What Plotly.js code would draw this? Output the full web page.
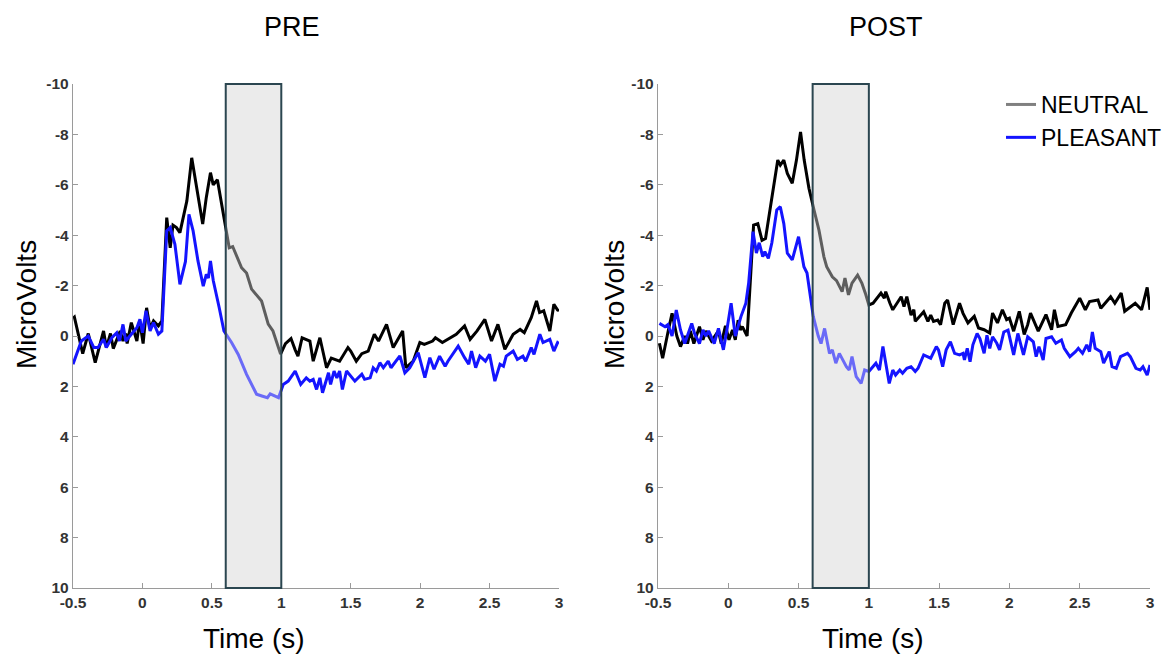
<!DOCTYPE html>
<html>
<head>
<meta charset="utf-8">
<script src="https://cdn.plot.ly/plotly-3.0.1.min.js"></script>
<style>html,body{margin:0;padding:0;background:#fff;}#chart{width:1176px;height:654px;}</style>
</head>
<body>
<div id="chart"></div>
<script>
// ---- DATA ----
const panelTitles = ["PRE", "POST"];
const seriesNames = ["NEUTRAL", "PLEASANT"];
const xTickVals = [-0.5, 0, 0.5, 1, 1.5, 2, 2.5, 3];
const xTickText = ["-0.5", "0", "0.5", "1", "1.5", "2", "2.5", "3"];
const yTickVals = [-10, -8, -6, -4, -2, 0, 2, 4, 6, 8, 10];
const yTickText = ["-10", "-8", "-6", "-4", "-2", "0", "2", "4", "6", "8", "10"];
const windowStart = 0.6, windowEnd = 1.0;

const preNeutralT = [-0.5,-0.49,-0.43,-0.39,-0.34,-0.28,-0.26,-0.23,-0.21,-0.16,-0.14,-0.12,-0.11,-0.08,-0.04,-0.02,0.005,0.03,0.055,0.08,0.115,0.14,0.175,0.2,0.22,0.245,0.27,0.32,0.355,0.39,0.434,0.46,0.49,0.51,0.54,0.587,0.625,0.65,0.714,0.75,0.786,0.858,0.906,0.94,0.995,1.03,1.07,1.1,1.12,1.15,1.18,1.206,1.23,1.278,1.326,1.36,1.42,1.48,1.5,1.54,1.58,1.626,1.67,1.7,1.758,1.806,1.874,1.897,1.95,1.998,2.03,2.09,2.11,2.16,2.26,2.32,2.36,2.41,2.466,2.514,2.56,2.61,2.67,2.72,2.75,2.8,2.838,2.86,2.89,2.934,2.963,2.99,3.0];
const preNeutralV = [-0.7,-0.75,0.7,-0.1,1.06,-0.2,0.46,-0.1,0.5,-0.2,0.2,-0.1,0.3,-0.53,0.2,-0.6,0.3,-1.12,-0.3,-0.6,-0.4,-0.6,-4.7,-3.5,-4.4,-4.3,-4.1,-5.36,-7.07,-5.9,-4.44,-5.5,-6.48,-6.0,-6.2,-4.7,-3.5,-3.55,-2.71,-2.5,-1.86,-1.39,-0.47,-0.2,0.72,0.3,0.1,0.55,0.8,0.07,0.13,0.2,1.0,0.07,1.26,0.88,1.0,0.46,0.6,1.0,0.7,0.6,-0.07,0.2,-0.46,0.46,-0.2,1.26,1.0,0.26,0.33,0.2,0.07,0.26,-0.07,-0.4,0.13,-0.2,-0.66,0.2,-0.46,0.53,-0.07,-0.26,-0.13,-0.73,-1.39,-0.93,-1.0,-0.2,-1.26,-1.03,-1.0];

const prePleasantT = [-0.5,-0.44,-0.39,-0.35,-0.32,-0.28,-0.26,-0.22,-0.185,-0.165,-0.14,-0.12,-0.08,-0.04,-0.018,0.0,0.026,0.055,0.08,0.115,0.14,0.175,0.2,0.234,0.27,0.31,0.335,0.365,0.4,0.438,0.46,0.475,0.49,0.51,0.553,0.587,0.642,0.69,0.75,0.822,0.86,0.9,0.92,0.98,1.014,1.05,1.1,1.14,1.18,1.206,1.23,1.254,1.278,1.297,1.34,1.355,1.38,1.4,1.42,1.44,1.47,1.505,1.53,1.58,1.6,1.64,1.662,1.685,1.71,1.735,1.77,1.79,1.854,1.89,1.925,1.986,2.034,2.07,2.1,2.14,2.18,2.2,2.274,2.32,2.35,2.37,2.4,2.43,2.47,2.5,2.538,2.575,2.6,2.62,2.67,2.7,2.74,2.76,2.8,2.82,2.862,2.885,2.934,2.963,2.99,3.0];
const prePleasantV = [1.12,0.2,0.0,0.46,0.46,0.13,0.46,0.07,-0.13,0.2,-0.46,0.2,-0.07,-0.33,-0.66,-0.13,-1.0,-0.2,-0.53,-0.07,-0.2,-4.17,-4.3,-3.64,-2.05,-2.96,-4.83,-4.17,-2.98,-1.98,-2.45,-2.3,-2.98,-2.2,-1.12,-0.2,0.26,0.73,1.52,2.31,2.38,2.45,2.3,2.45,1.92,1.79,1.39,1.92,1.66,1.79,1.72,2.12,1.66,2.25,1.46,1.92,1.39,1.66,1.39,2.12,1.39,1.6,1.79,1.52,1.72,1.66,1.26,1.39,1.06,1.26,1.0,1.26,0.79,1.46,1.26,0.66,1.65,0.86,1.32,0.8,1.2,1.0,0.4,0.86,1.12,0.6,1.26,0.8,1.0,0.73,1.79,1.12,1.2,0.8,0.6,0.93,0.8,1.0,0.46,0.73,-0.07,0.26,0.13,0.6,0.26,0.3];

const postNeutralT = [-0.49,-0.467,-0.426,-0.4,-0.366,-0.34,-0.31,-0.29,-0.27,-0.245,-0.205,-0.18,-0.16,-0.12,-0.07,-0.05,-0.02,0.005,0.03,0.05,0.07,0.085,0.1,0.134,0.18,0.21,0.24,0.265,0.3,0.32,0.352,0.37,0.395,0.42,0.455,0.485,0.514,0.54,0.574,0.61,0.645,0.68,0.7,0.74,0.77,0.81,0.83,0.855,0.88,0.92,0.95,0.975,1.0,1.03,1.086,1.11,1.12,1.15,1.17,1.23,1.25,1.27,1.3,1.32,1.33,1.39,1.42,1.44,1.46,1.49,1.51,1.54,1.56,1.6,1.645,1.67,1.705,1.75,1.78,1.82,1.86,1.88,1.915,1.95,1.98,2.0,2.03,2.07,2.105,2.13,2.15,2.205,2.26,2.3,2.32,2.345,2.4,2.44,2.5,2.54,2.57,2.63,2.65,2.72,2.75,2.795,2.82,2.895,2.94,2.98,3.0];
const postNeutralV = [0.29,0.88,-0.24,-0.9,0.0,0.42,0.0,0.3,-0.2,0.3,-0.37,0.15,-0.2,0.2,-0.2,0.3,-0.4,0.15,-0.24,0.15,-0.63,-0.24,-0.37,0.0,-4.4,-4.46,-3.8,-3.87,-5.13,-5.8,-6.98,-6.78,-6.98,-6.45,-6.06,-6.98,-8.1,-6.98,-5.86,-5.0,-4.2,-3.15,-2.75,-2.35,-2.2,-1.76,-2.3,-1.63,-2.1,-2.42,-2.1,-1.7,-1.23,-1.3,-1.7,-1.5,-1.76,-1.3,-1.04,-1.56,-1.17,-1.56,-0.83,-1.04,-0.58,-0.96,-0.58,-0.83,-0.58,-0.63,-0.45,-1.3,-1.43,-0.45,-1.3,-0.9,-0.52,-0.78,-0.32,-0.25,-0.12,-0.91,-0.52,-1.04,-0.65,-0.71,-0.19,-0.98,-0.06,-0.45,-0.91,-0.19,-0.85,-0.25,-1.04,-0.38,-0.45,-0.91,-1.5,-1.04,-1.37,-1.43,-1.1,-1.56,-1.3,-1.7,-0.98,-1.3,-1.04,-1.93,-1.04];

const postPleasantT = [-0.49,-0.45,-0.43,-0.4,-0.37,-0.34,-0.31,-0.26,-0.24,-0.205,-0.18,-0.16,-0.14,-0.1,-0.07,-0.035,-0.01,0.02,0.05,0.09,0.125,0.145,0.176,0.2,0.22,0.245,0.26,0.285,0.31,0.345,0.37,0.395,0.42,0.455,0.5,0.538,0.56,0.586,0.605,0.64,0.66,0.685,0.72,0.74,0.765,0.79,0.84,0.86,0.88,0.91,0.945,0.97,1.0,1.05,1.075,1.1,1.145,1.17,1.19,1.22,1.24,1.27,1.3,1.33,1.35,1.39,1.42,1.44,1.48,1.495,1.525,1.55,1.58,1.61,1.645,1.67,1.68,1.7,1.72,1.74,1.77,1.79,1.82,1.84,1.86,1.88,1.91,1.93,1.96,1.99,2.03,2.06,2.1,2.13,2.17,2.19,2.21,2.24,2.26,2.3,2.33,2.37,2.39,2.43,2.47,2.49,2.52,2.55,2.57,2.59,2.61,2.65,2.67,2.71,2.73,2.76,2.79,2.84,2.86,2.9,2.93,2.95,2.98,3.0];
const postPleasantV = [-0.5,-0.37,-0.45,0.0,-1.03,-0.24,0.3,-0.5,-0.1,0.3,-0.24,0.0,-0.2,0.3,-0.3,0.55,-0.24,-1.3,0.0,-0.77,-1.3,-2.1,-4.14,-3.29,-3.7,-3.15,-3.35,-3.08,-3.7,-5.0,-5.13,-4.46,-3.29,-3.02,-3.94,-2.75,-2.5,-1.43,-0.77,0.0,0.3,-0.3,0.69,0.55,1.08,0.69,1.22,1.35,0.82,1.61,1.88,1.35,1.41,1.08,1.35,0.42,1.88,1.35,1.55,1.35,1.48,1.28,1.22,1.41,1.28,0.75,0.82,0.88,0.42,0.55,1.22,0.55,0.23,0.69,0.75,0.69,0.95,0.49,1.02,0.35,-0.1,0.1,0.69,-0.03,0.49,0.03,0.29,0.55,-0.16,-0.23,0.75,-0.1,0.75,0.03,0.23,0.82,0.42,0.95,0.1,0.03,0.29,0.16,0.49,0.82,0.62,0.49,0.69,0.35,0.62,-0.16,0.49,0.62,1.08,0.62,1.22,1.28,0.82,0.69,0.82,1.28,1.35,1.22,1.55,1.15];

// ---- STYLE / LAYOUT ----
const W = 1176, H = 654;
const px = x => x / W;
const py = y => 1 - y / H;
const neutralColor = "#000000";
const pleasantColor = "#1414ff";
const legendNeutral = "#808080";
const fontFam = "Liberation Sans, Arial, sans-serif";

function line(t, v, color, xa, ya) {
  return {x: t, y: v, type: "scatter", mode: "lines", xaxis: xa, yaxis: ya,
    line: {color: color, width: 3}, showlegend: false, hoverinfo: "skip"};
}

const data = [
  line(preNeutralT, preNeutralV, neutralColor, "x", "y"),
  line(prePleasantT, prePleasantV, pleasantColor, "x", "y"),
  line(postNeutralT, postNeutralV, neutralColor, "x2", "y2"),
  line(postPleasantT, postPleasantV, pleasantColor, "x2", "y2"),
  {x: [null], y: [null], type: "scatter", mode: "lines", name: seriesNames[0], xaxis: "x2", yaxis: "y2",
    line: {color: legendNeutral, width: 3}},
  {x: [null], y: [null], type: "scatter", mode: "lines", name: seriesNames[1], xaxis: "x2", yaxis: "y2",
    line: {color: pleasantColor, width: 3}}
];

function xaxis(dom) {
  return {domain: dom, range: [-0.5, 3], tickmode: "array", tickvals: xTickVals, ticktext: xTickText,
    ticks: "inside", ticklen: 5, tickcolor: "#9a9a9a", showline: true, linecolor: "#9a9a9a", linewidth: 1.2,
    showgrid: false, zeroline: false, mirror: false,
    tickfont: {family: fontFam, size: 15.5, color: "#333333", weight: "bold"}};
}
function yaxis(dom, anchor) {
  return {domain: dom, range: [10, -10], tickmode: "array", tickvals: yTickVals, ticktext: yTickText,
    ticks: "inside", ticklen: 5, tickcolor: "#9a9a9a", showline: true, linecolor: "#9a9a9a", linewidth: 1.2,
    showgrid: false, zeroline: false, anchor: anchor,
    tickfont: {family: fontFam, size: 15.5, color: "#333333", weight: "bold"}};
}

const yDom = [py(588), py(84)];
function windowShapes(xr, yr) {
  return [
    {type: "rect", xref: xr, yref: yr + " domain", x0: windowStart, x1: windowEnd, y0: 0, y1: 1,
      fillcolor: "#ebebeb", line: {width: 0}, layer: "below"},
    {type: "rect", xref: xr, yref: yr + " domain", x0: windowStart, x1: windowEnd, y0: 0, y1: 1,
      fillcolor: "rgba(235,235,235,0.4)", line: {color: "#2b4650", width: 2}, layer: "above"}
  ];
}

function ann(text, x, y, size, angle) {
  return {text: text, xref: "paper", yref: "paper", x: px(x), y: py(y), xanchor: "center", yanchor: "middle",
    showarrow: false, textangle: angle || 0, font: {family: fontFam, size: size, color: "#000"}};
}

const layout = {
  width: W, height: H, margin: {l: 0, r: 0, t: 0, b: 0},
  paper_bgcolor: "#fff", plot_bgcolor: "rgba(0,0,0,0)",
  xaxis: xaxis([px(73), px(559)]),
  yaxis: yaxis(yDom, "x"),
  xaxis2: Object.assign(xaxis([px(658), px(1150)]), {anchor: "y2"}),
  yaxis2: yaxis(yDom, "x2"),
  shapes: windowShapes("x", "y").concat(windowShapes("x2", "y2")),
  annotations: [
    ann(panelTitles[0], 292, 27, 27),
    ann(panelTitles[1], 886, 27, 27),
    ann("MicroVolts", 26, 305, 28, -90),
    ann("MicroVolts", 614, 305, 28, -90),
    ann("Time (s)", 254, 638, 28),
    ann("Time (s)", 873, 638, 28)
  ],
  showlegend: true,
  legend: {x: px(1001), y: py(83), xanchor: "left", yanchor: "top", bgcolor: "rgba(0,0,0,0)",
    font: {family: fontFam, size: 23, color: "#000"}, tracegroupgap: 0}
};
layout.xaxis.anchor = "y";

Plotly.newPlot("chart", data, layout, {displayModeBar: false, staticPlot: true});
</script>
</body>
</html>
